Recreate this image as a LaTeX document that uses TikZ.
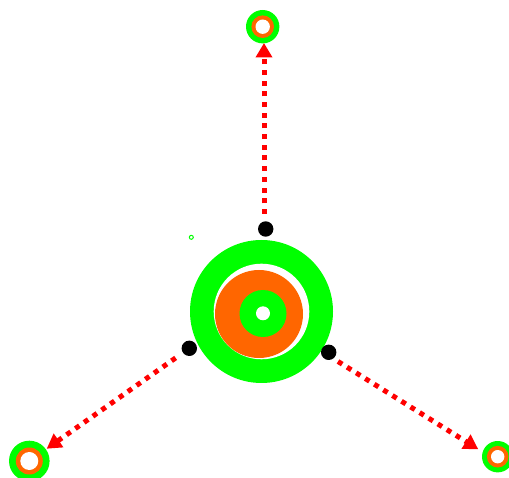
\documentclass[tikz,border=0pt]{standalone}
\usetikzlibrary{arrows.meta}
\definecolor{gr}{HTML}{00FF00}
\definecolor{orng}{HTML}{FF6600}
\definecolor{rd}{HTML}{FF0000}
\tikzset{
  disk/.style={circle, inner sep=0pt, outer sep=0pt, minimum size=#1},
  dotnode/.style={disk=15.4pt, fill=black},
  arr/.style={draw=rd, line width=5pt, dash pattern=on 5pt off 5.7pt,
    -{Triangle[length=14.5pt, width=16pt, fill=rd]}},
}
\begin{document}
\begin{tikzpicture}[x=1pt, y=-1pt]
\useasboundingbox (0,0) rectangle (509,478);
% central target
\node[disk=143pt, fill=gr] (ring) at (261.5,311.5) {};
\node[disk=95.6pt, fill=white] (gap) at (261.5,311.5) {};
\node[disk=88pt, fill=orng] (core) at (259,314) {};
\node[disk=47pt, fill=gr] (inner) at (263,313.5) {};
\node[disk=14pt, fill=white] (hole) at (263,313.3) {};
% black dots
\node[dotnode] (dT) at (265.7,229) {};
\node[dotnode] (dL) at (189.3,348.3) {};
\node[dotnode] (dR) at (328.7,352.3) {};
% small green ring
\node[disk=4pt, draw=gr, line width=1pt] (tiny) at (191.3,237.3) {};
% top target
\node[disk=33.4pt, fill=gr] (nT) at (262.7,26.7) {};
\node[disk=22.6pt, fill=orng] (nT2) at (262.7,26.7) {};
\node[disk=14.4pt, fill=white] (nT3) at (262.7,26.7) {};
% bottom-left target
\node[disk=40.6pt, fill=gr] (nL) at (29.3,461) {};
\node[disk=27pt, fill=orng] (nL2) at (29.3,461) {};
\node[disk=18pt, fill=white] (nL3) at (29.3,461) {};
% bottom-right target
\node[disk=31.4pt, fill=gr] (nR) at (497.7,456.7) {};
\node[disk=21.6pt, fill=orng] (nR2) at (497.7,456.7) {};
\node[disk=13.4pt, fill=white] (nR3) at (497.7,456.7) {};
% connector ends
\coordinate (sT) at (264,214);
\coordinate (eT) at (264,43);
\coordinate (sR) at (338,361.5);
\coordinate (eR) at (478.3,449.3);
% connectors
\draw[arr] (sT) -- (eT);
\draw[arr, shorten <=9pt, shorten >=1pt] (dL) -- (nL);
\draw[arr] (sR) -- (eR);
\end{tikzpicture}
\end{document}
